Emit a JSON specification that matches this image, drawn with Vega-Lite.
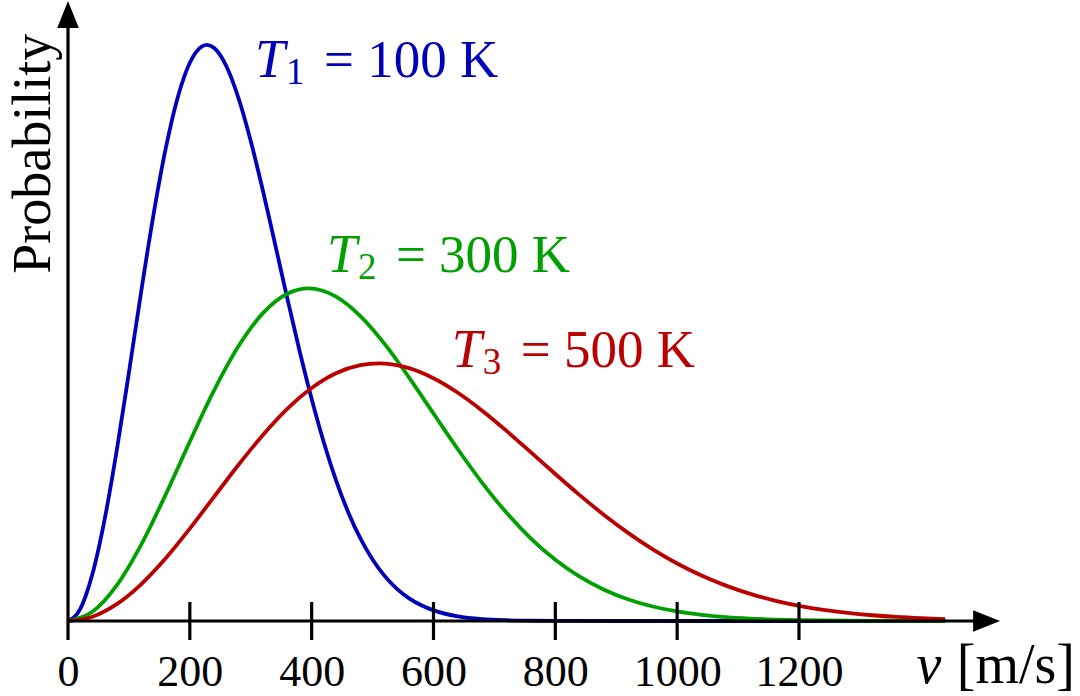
{
  "$schema": "https://vega.github.io/schema/vega-lite/v6.json",
  "width": 932,
  "height": 621,
  "autosize": "none",
  "padding": {"left": 68, "top": 0, "right": 80, "bottom": 75},
  "background": "white",
  "config": {"view": {"stroke": null}},
  "datasets": {
    "one": [{}],
    "curves": [
      {"series": "T1", "v": 0, "p": 0}, {"series": "T1", "v": 20, "p": 0.02076}, {"series": "T1", "v": 40, "p": 0.08113}, {"series": "T1", "v": 60, "p": 0.17565}, {"series": "T1", "v": 80, "p": 0.2959}, {"series": "T1", "v": 100, "p": 0.4314}, {"series": "T1", "v": 120, "p": 0.5708}, {"series": "T1", "v": 140, "p": 0.70297}, {"series": "T1", "v": 160, "p": 0.81809}, {"series": "T1", "v": 180, "p": 0.90842}, {"series": "T1", "v": 200, "p": 0.96897}, {"series": "T1", "v": 220, "p": 0.99751}, {"series": "T1", "v": 228, "p": 1.0}, {"series": "T1", "v": 240, "p": 0.99456}, {"series": "T1", "v": 260, "p": 0.96298}, {"series": "T1", "v": 280, "p": 0.90734}, {"series": "T1", "v": 300, "p": 0.83325}, {"series": "T1", "v": 320, "p": 0.74685}, {"series": "T1", "v": 340, "p": 0.65406}, {"series": "T1", "v": 360, "p": 0.56012}, {"series": "T1", "v": 380, "p": 0.46948}, {"series": "T1", "v": 400, "p": 0.38534}, {"series": "T1", "v": 420, "p": 0.30989}, {"series": "T1", "v": 440, "p": 0.24429}, {"series": "T1", "v": 460, "p": 0.18886}, {"series": "T1", "v": 480, "p": 0.14324}, {"series": "T1", "v": 500, "p": 0.1066}, {"series": "T1", "v": 520, "p": 0.07788}, {"series": "T1", "v": 540, "p": 0.05586}, {"series": "T1", "v": 560, "p": 0.03934}, {"series": "T1", "v": 580, "p": 0.02722}, {"series": "T1", "v": 600, "p": 0.0185}, {"series": "T1", "v": 640, "p": 0.00812}, {"series": "T1", "v": 680, "p": 0.00332}, {"series": "T1", "v": 720, "p": 0.00127}, {"series": "T1", "v": 760, "p": 0.00045}, {"series": "T1", "v": 800, "p": 0.00015}, {"series": "T1", "v": 900, "p": 0.00001}, {"series": "T1", "v": 1000, "p": 0}, {"series": "T1", "v": 1100, "p": 0}, {"series": "T1", "v": 1200, "p": 0}, {"series": "T1", "v": 1300, "p": 0}, {"series": "T1", "v": 1440, "p": 0},
      {"series": "T2", "v": 0, "p": 0}, {"series": "T2", "v": 40, "p": 0.01594}, {"series": "T2", "v": 80, "p": 0.06182}, {"series": "T2", "v": 120, "p": 0.13213}, {"series": "T2", "v": 160, "p": 0.21862}, {"series": "T2", "v": 200, "p": 0.31146}, {"series": "T2", "v": 240, "p": 0.40065}, {"series": "T2", "v": 280, "p": 0.47723}, {"series": "T2", "v": 320, "p": 0.53442}, {"series": "T2", "v": 360, "p": 0.56812}, {"series": "T2", "v": 395, "p": 0.57735}, {"series": "T2", "v": 440, "p": 0.56301}, {"series": "T2", "v": 480, "p": 0.52918}, {"series": "T2", "v": 520, "p": 0.48055}, {"series": "T2", "v": 560, "p": 0.42248}, {"series": "T2", "v": 600, "p": 0.36016}, {"series": "T2", "v": 640, "p": 0.29817}, {"series": "T2", "v": 680, "p": 0.23992}, {"series": "T2", "v": 720, "p": 0.18784}, {"series": "T2", "v": 760, "p": 0.14318}, {"series": "T2", "v": 800, "p": 0.10633}, {"series": "T2", "v": 840, "p": 0.07697}, {"series": "T2", "v": 880, "p": 0.05434}, {"series": "T2", "v": 920, "p": 0.03744}, {"series": "T2", "v": 960, "p": 0.02518}, {"series": "T2", "v": 1000, "p": 0.01652}, {"series": "T2", "v": 1040, "p": 0.01059}, {"series": "T2", "v": 1080, "p": 0.00663}, {"series": "T2", "v": 1120, "p": 0.00405}, {"series": "T2", "v": 1160, "p": 0.00242}, {"series": "T2", "v": 1200, "p": 0.00142}, {"series": "T2", "v": 1280, "p": 0.00045}, {"series": "T2", "v": 1360, "p": 0.00013}, {"series": "T2", "v": 1440, "p": 0.00004},
      {"series": "T3", "v": 0, "p": 0}, {"series": "T3", "v": 40, "p": 0.00744}, {"series": "T3", "v": 80, "p": 0.02921}, {"series": "T3", "v": 120, "p": 0.06372}, {"series": "T3", "v": 160, "p": 0.1085}, {"series": "T3", "v": 200, "p": 0.1604}, {"series": "T3", "v": 240, "p": 0.21585}, {"series": "T3", "v": 280, "p": 0.2712}, {"series": "T3", "v": 320, "p": 0.32298}, {"series": "T3", "v": 360, "p": 0.36815}, {"series": "T3", "v": 400, "p": 0.40434}, {"series": "T3", "v": 440, "p": 0.42993}, {"series": "T3", "v": 480, "p": 0.4441}, {"series": "T3", "v": 510, "p": 0.44721}, {"series": "T3", "v": 560, "p": 0.43889}, {"series": "T3", "v": 600, "p": 0.42146}, {"series": "T3", "v": 640, "p": 0.39623}, {"series": "T3", "v": 680, "p": 0.36507}, {"series": "T3", "v": 720, "p": 0.32995}, {"series": "T3", "v": 760, "p": 0.29275}, {"series": "T3", "v": 800, "p": 0.25514}, {"series": "T3", "v": 840, "p": 0.21855}, {"series": "T3", "v": 880, "p": 0.18407}, {"series": "T3", "v": 920, "p": 0.15252}, {"series": "T3", "v": 960, "p": 0.12436}, {"series": "T3", "v": 1000, "p": 0.09979}, {"series": "T3", "v": 1040, "p": 0.07886}, {"series": "T3", "v": 1080, "p": 0.06136}, {"series": "T3", "v": 1120, "p": 0.04704}, {"series": "T3", "v": 1160, "p": 0.03553}, {"series": "T3", "v": 1200, "p": 0.02644}, {"series": "T3", "v": 1240, "p": 0.0194}, {"series": "T3", "v": 1280, "p": 0.01402}, {"series": "T3", "v": 1320, "p": 0.01}, {"series": "T3", "v": 1360, "p": 0.00702}, {"series": "T3", "v": 1400, "p": 0.00487}, {"series": "T3", "v": 1440, "p": 0.00333}
    ],
    "ticks": [{"v": 200}, {"v": 400}, {"v": 600}, {"v": 800}, {"v": 1000}, {"v": 1200}],
    "labels": [
      {"series": "T1", "v": 307, "p": 0.944, "sym": "T", "sub": "1", "rest": "= 100 K"},
      {"series": "T2", "v": 425, "p": 0.605, "sym": "T", "sub": "2", "rest": "= 300 K"},
      {"series": "T3", "v": 630, "p": 0.4415, "sym": "T", "sub": "3", "rest": "= 500 K"}
    ]
  },
  "layer": [
    {
      "data": {"name": "curves"},
      "mark": {"type": "line", "interpolate": "monotone", "strokeWidth": 3.8},
      "encoding": {
        "x": {
          "field": "v", "type": "quantitative",
          "scale": {"domain": [0, 1530], "nice": false, "zero": false},
          "axis": {
            "values": [0, 200, 400, 600, 800, 1000, 1200],
            "domain": false, "ticks": false, "tickSize": 0, "grid": false,
            "labelFont": "Liberation Serif", "labelFontSize": 44, "labelColor": "black",
            "labelBaseline": "alphabetic", "labelPadding": 64, "labelFlush": false,
            "labelOverlap": false, "format": "d", "title": null
          }
        },
        "y": {
          "field": "p", "type": "quantitative",
          "scale": {"domain": [0, 1.078], "nice": false, "zero": false},
          "axis": null
        },
        "color": {
          "field": "series", "type": "nominal",
          "scale": {"domain": ["T1", "T2", "T3"], "range": ["#0000bb", "#00a000", "#bb0000"]},
          "legend": null
        }
      }
    },
    {
      "data": {"name": "one"},
      "mark": {"type": "rule", "color": "black", "strokeWidth": 3.2},
      "encoding": {
        "x": {"datum": 0, "type": "quantitative"},
        "x2": {"datum": 1489},
        "y": {"datum": 0, "type": "quantitative"}
      }
    },
    {
      "data": {"name": "one"},
      "mark": {"type": "rule", "color": "black", "strokeWidth": 3.2},
      "encoding": {
        "x": {"datum": 0, "type": "quantitative"},
        "y": {"datum": -0.033, "type": "quantitative"},
        "y2": {"datum": 1.03}
      }
    },
    {
      "data": {"name": "ticks"},
      "mark": {"type": "rule", "color": "black", "strokeWidth": 3.2},
      "encoding": {
        "x": {"field": "v", "type": "quantitative"},
        "y": {"datum": -0.033, "type": "quantitative"},
        "y2": {"datum": 0.033}
      }
    },
    {
      "data": {"name": "one"},
      "mark": {"type": "point", "shape": "M-1,-0.8L1,0L-1,0.8Z", "filled": true, "color": "black", "opacity": 1, "size": 729, "strokeWidth": 0},
      "encoding": {
        "x": {"datum": 1508, "type": "quantitative"},
        "y": {"datum": 0, "type": "quantitative"}
      }
    },
    {
      "data": {"name": "one"},
      "mark": {"type": "point", "shape": "M-0.8,1L0,-1L0.8,1Z", "filled": true, "color": "black", "opacity": 1, "size": 729, "strokeWidth": 0},
      "encoding": {
        "x": {"datum": 0, "type": "quantitative"},
        "y": {"datum": 1.053, "type": "quantitative"}
      }
    },
    {
      "data": {"name": "labels"},
      "mark": {"type": "text", "align": "left", "baseline": "alphabetic", "font": "Liberation Serif", "fontStyle": "italic", "fontSize": 54},
      "encoding": {
        "x": {"field": "v", "type": "quantitative"},
        "y": {"field": "p", "type": "quantitative"},
        "text": {"field": "sym"},
        "color": {"field": "series", "type": "nominal", "legend": null}
      }
    },
    {
      "data": {"name": "labels"},
      "mark": {"type": "text", "align": "left", "baseline": "alphabetic", "font": "Liberation Serif", "fontSize": 37, "dx": 31, "dy": 7},
      "encoding": {
        "x": {"field": "v", "type": "quantitative"},
        "y": {"field": "p", "type": "quantitative"},
        "text": {"field": "sub"},
        "color": {"field": "series", "type": "nominal", "legend": null}
      }
    },
    {
      "data": {"name": "labels"},
      "mark": {"type": "text", "align": "left", "baseline": "alphabetic", "font": "Liberation Serif", "fontSize": 53, "dx": 69},
      "encoding": {
        "x": {"field": "v", "type": "quantitative"},
        "y": {"field": "p", "type": "quantitative"},
        "text": {"field": "rest"},
        "color": {"field": "series", "type": "nominal", "legend": null}
      }
    },
    {
      "data": {"name": "one"},
      "mark": {"type": "text", "text": "Probability", "angle": 270, "align": "center", "baseline": "alphabetic", "font": "Liberation Serif", "fontSize": 54, "color": "black"},
      "encoding": {
        "x": {"datum": -29, "type": "quantitative"},
        "y": {"datum": 0.811, "type": "quantitative"}
      }
    },
    {
      "data": {"name": "one"},
      "mark": {"type": "text", "text": "v", "align": "left", "baseline": "alphabetic", "font": "Liberation Serif", "fontStyle": "italic", "fontSize": 56, "color": "black"},
      "encoding": {
        "x": {"datum": 1393, "type": "quantitative"},
        "y": {"datum": -0.1076, "type": "quantitative"}
      }
    },
    {
      "data": {"name": "one"},
      "mark": {"type": "text", "text": "[m/s]", "align": "left", "baseline": "alphabetic", "font": "Liberation Serif", "fontSize": 56, "color": "black"},
      "encoding": {
        "x": {"datum": 1459, "type": "quantitative"},
        "y": {"datum": -0.1076, "type": "quantitative"}
      }
    }
  ]
}
